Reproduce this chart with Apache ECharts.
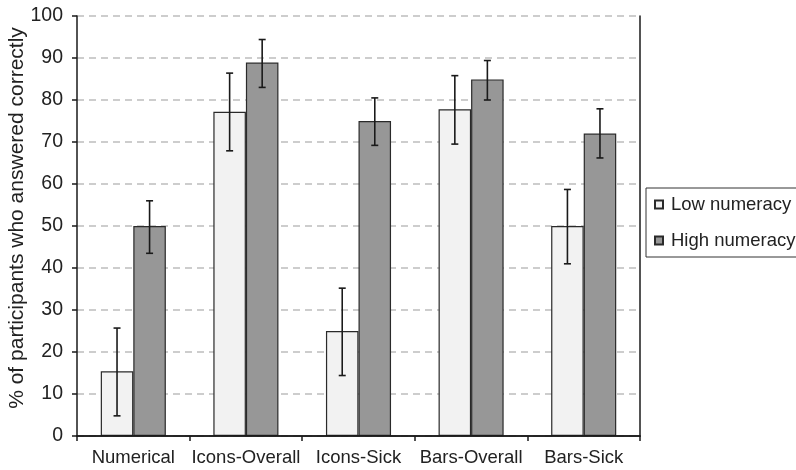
<!DOCTYPE html>
<html>
<head>
<meta charset="utf-8">
<script src="https://cdn.jsdelivr.net/npm/echarts@6/dist/echarts.min.js"></script>
<style>html,body{margin:0;padding:0;background:#fff;}#c{width:796px;height:470px;}</style>
</head>
<body>
<div id="c"></div>
<script>
var categories = ['Numerical', 'Icons-Overall', 'Icons-Sick', 'Bars-Overall', 'Bars-Sick'];
var lowValues = [15.4, 77.2, 25.0, 77.8, 50.0];
var lowErrLower = [4.8, 67.9, 14.4, 69.5, 41.0];
var lowErrUpper = [25.7, 86.4, 35.2, 85.8, 58.7];
var highValues = [50.0, 88.9, 75.0, 84.9, 72.0];
var highErrLower = [43.5, 83.0, 69.2, 80.0, 66.2];
var highErrUpper = [56.0, 94.4, 80.5, 89.4, 77.9];
var yTicks = [0, 10, 20, 30, 40, 50, 60, 70, 80, 90, 100];

var FONT = '"Liberation Sans", Arial, sans-serif';
var BAR_FRAC = 0.289;

function errData(lo, hi) {
  return categories.map(function (c, i) { return [i, lo[i], hi[i]]; });
}
function errRender(sign) {
  return function (params, api) {
    var xi = api.value(0);
    var p1 = api.coord([xi, api.value(1)]);
    var p2 = api.coord([xi, api.value(2)]);
    var cw = api.size([1, 0])[0];
    var x = p1[0] + sign * cw * BAR_FRAC / 2;
    var cap = 3.5;
    var st = { stroke: '#1a1a1a', lineWidth: 1.6 };
    return {
      type: 'group',
      children: [
        { type: 'line', shape: { x1: x, y1: p1[1], x2: x, y2: p2[1] }, style: st },
        { type: 'line', shape: { x1: x - cap, y1: p1[1], x2: x + cap, y2: p1[1] }, style: st },
        { type: 'line', shape: { x1: x - cap, y1: p2[1], x2: x + cap, y2: p2[1] }, style: st }
      ]
    };
  };
}

var chart = echarts.init(document.getElementById('c'), null, { renderer: 'canvas' });
chart.setOption({
  animation: false,
  backgroundColor: '#ffffff',
  textStyle: { fontFamily: FONT },
  grid: { left: 77, right: 156, top: 16, bottom: 34, containLabel: false, outerBoundsMode: 'none' },
  legend: {
    orient: 'vertical',
    left: 646, top: 188,
    padding: [7, 20, 7, 8],
    itemGap: 17,
    itemWidth: 8, itemHeight: 8,
    icon: 'rect',
    borderColor: '#333', borderWidth: 1,
    textStyle: { fontFamily: FONT, fontSize: 18.5, color: '#222', padding: [0, 0, 0, 3] },
    data: ['Low numeracy', 'High numeracy']
  },
  xAxis: [{
    type: 'category',
    data: categories,
    z: 5,
    axisLine: { lineStyle: { color: '#1a1a1a', width: 1.5 } },
    axisTick: { show: true, interval: 0, length: 5, lineStyle: { color: '#1a1a1a', width: 1.5 } },
    axisLabel: { interval: 0, fontFamily: FONT, fontSize: 18.5, color: '#222', margin: 12 },
    splitLine: { show: false }
  }, {
    type: 'category', position: 'top', data: categories,
    z: 5,
    axisLine: { lineStyle: { color: '#1a1a1a', width: 1.5 } },
    axisTick: { show: false }, axisLabel: { show: false }, splitLine: { show: false }
  }],
  yAxis: [{
    type: 'value', min: 0, max: 100, interval: 10,
    name: '% of participants who answered correctly',
    nameLocation: 'middle', nameGap: 49, nameMoveOverlap: false,
    nameTextStyle: { fontFamily: FONT, fontSize: 21, color: '#222', padding: [0, 0, 0, 16] },
    axisLine: { show: true, lineStyle: { color: '#1a1a1a', width: 1.5 } },
    axisTick: { show: true, length: 5, lineStyle: { color: '#1a1a1a', width: 1.5 } },
    axisLabel: { fontFamily: FONT, fontSize: 19.5, color: '#222', margin: 14,
      formatter: function (v) { return yTicks.indexOf(v) >= 0 ? String(v) : ''; } },
    splitLine: { show: true, lineStyle: { color: '#bdbdbd', width: 1.5, type: [7, 5] } }
  }, {
    type: 'value', min: 0, max: 100, interval: 10, position: 'right',
    z: 5,
    axisLine: { show: true, lineStyle: { color: '#1a1a1a', width: 1.5 } },
    axisTick: { show: false }, axisLabel: { show: false }, splitLine: { show: false }
  }],
  series: [
    {
      name: 'Low numeracy', type: 'bar', data: lowValues,
      barWidth: (BAR_FRAC * 100) + '%', barGap: '0%',
      itemStyle: { color: '#f2f2f2', borderColor: '#2a2a2a', borderWidth: 1.2 }
    },
    {
      name: 'High numeracy', type: 'bar', data: highValues,
      barWidth: (BAR_FRAC * 100) + '%', barGap: '0%',
      itemStyle: { color: '#979797', borderColor: '#2a2a2a', borderWidth: 1.2 }
    },
    {
      type: 'custom', name: 'errLow', data: errData(lowErrLower, lowErrUpper),
      renderItem: errRender(-1), encode: { x: 0, y: [1, 2] }, z: 5
    },
    {
      type: 'custom', name: 'errHigh', data: errData(highErrLower, highErrUpper),
      renderItem: errRender(1), encode: { x: 0, y: [1, 2] }, z: 5
    }
  ]
});
</script>
</body>
</html>
